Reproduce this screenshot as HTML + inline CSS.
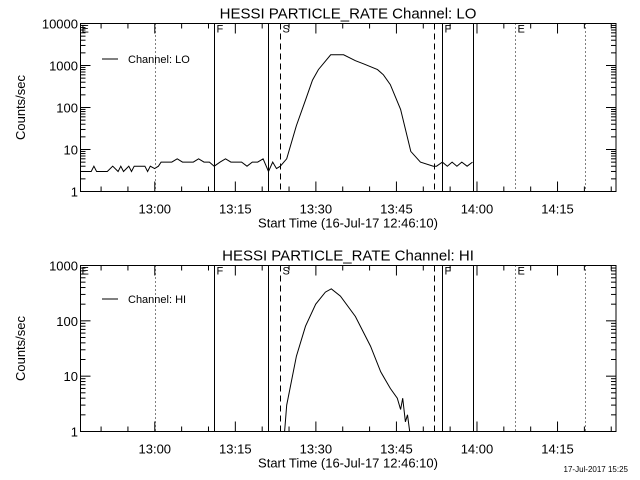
<!DOCTYPE html>
<html><head><meta charset="utf-8"><style>
html,body{margin:0;padding:0;background:#fff;}
svg{display:block;font-family:"Liberation Sans",sans-serif;}
</style></head><body>
<svg id="c" width="640" height="480" xmlns="http://www.w3.org/2000/svg"></svg>
<script>
// minutes after 12:46:10
const loTimes=[0,1,2,2.5,3,4,5,6,7,7.5,8,9,9.5,10,11,12,12.5,13,13.8,14.5,15,16,17,18,19,20,21,22,23,24,24.9,26,27,28,29,30,31,32,33,34,35,35.8,36.5,37.2,38.4,40.2,41.9,43.2,44.3,46.6,49.0,51.2,52.7,55.3,56.4,57.7,59.6,61.5,63.3,65.7,66.3,67.4,68.3,69.2,70.1,71,72,73];
const loValues=[3,3,3,4,3,3,3,4,3,4,3,4,3,4,4,4,3,4,3.5,4,5,5,5,6,5,5,5,6,5,5,4,5,6,5,5,5,4,5,5,6,3,5,3.5,4,6,37,150,450,800,1800,1800,1300,1100,800,600,350,90,9,5,4,4,5,4,5,4,5,4,5];
const hiTimes=[38.0,38.4,40.2,41.9,43.8,45.6,46.7,48.4,51.2,54.0,55.9,57.7,59.0,59.6,60.0,60.5,60.9,61.3];
const hiValues=[1,3,23,80,200,330,380,280,120,35,12,6,4,2.5,4,1.5,2,1];
const xTickLabels=["13:00","13:15","13:30","13:45","14:00","14:15"];
const xTickMinutes=[13.833,28.833,43.833,58.833,73.833,88.833];
const markerTimes=[13.833,24.9,35.0,37.2,65.9,67.4,73.0,81.0,94.0];
const markerStyles=["dot","solid","solid","dash","dash","solid","solid","dot","dot"];
const markerLabels=["","F","","S","","F","","E",""];

const svg=document.getElementById('c');
const NS="http://www.w3.org/2000/svg";
const X0=80.5,X1=616,PXMIN=5.37;
const xs=m=>X0+m*PXMIN;
function el(tag,attrs,txt){const e=document.createElementNS(NS,tag);for(const k in attrs)e.setAttribute(k,attrs[k]);if(txt!==undefined)e.textContent=txt;svg.appendChild(e);return e;}

function panel(p){
  const ys=v=>p.yb-(Math.log10(v))*(p.yb-p.yt)/p.dec;
  const g=el('rect',{x:X0,y:p.yt,width:X1-X0,height:p.yb-p.yt,fill:'none',stroke:'#000','stroke-width':1});
  
  
  const t=el('text',{x:348,y:p.yt-5,'text-anchor':'middle','font-size':15},p.title);
  
  
  // y ticks
  for(let d=0;d<=p.dec;d++){
    const y=ys(Math.pow(10,d));
    for(const xx of [[X0,X0+10],[X1,X1-10]]){const l=el('line',{x1:xx[0],x2:xx[1],y1:y,y2:y,stroke:'#000'});}
    const lb=el('text',{x:78,y:y+5,'text-anchor':'end','font-size':13},String(Math.pow(10,d)));
    
    
    if(d<p.dec)for(let k=2;k<=9;k++){const yy=ys(k*Math.pow(10,d));
      for(const xx of [[X0,X0+5],[X1,X1-5]]){const l=el('line',{x1:xx[0],x2:xx[1],y1:yy,y2:yy,stroke:'#000'});}}
  }
  const yl=el('text',{transform:`translate(25,${(p.yt+p.yb)/2}) rotate(-90)`,'text-anchor':'middle','font-size':13},'Counts/sec');
  
  
  // x ticks
  for(let m=3.833;xs(m)<X1;m+=5){
    const x=xs(m);const major=xTickMinutes.some(t=>Math.abs(t-m)<0.01);const len=major?10:5;
    for(const yy of [[p.yb,p.yb-len],[p.yt,p.yt+len]]){const l=el('line',{x1:x,x2:x,y1:yy[0],y2:yy[1],stroke:'#000'});}
  }
  xTickLabels.forEach((s,i)=>{const lb=el('text',{x:xs(xTickMinutes[i]),y:p.yb+22,'text-anchor':'middle','font-size':13},s);
    });
  const xt=el('text',{x:348,y:p.yb+36,'text-anchor':'middle','font-size':13},'Start Time (16-Jul-17 12:46:10)');
  
  
  // markers
  markerTimes.forEach((m,i)=>{const x=Math.round(xs(m))+0.5;const st=markerStyles[i];
    const a={x1:x,x2:x,y1:p.yt,y2:p.yb,stroke:'#000'};
    if(st==='dot')a['stroke-dasharray']='1,3';if(st==='dash')a['stroke-dasharray']='6,4';
    const l=el('line',a);
    if(markerLabels[i]){const tx=el('text',{x:x+2,y:p.yt+9,'font-size':11},markerLabels[i]);}
  });
  const tl=el('text',{x:X0+1,y:p.yt+9,'font-size':11},'E');
  // series
  let d='';p.times.forEach((m,i)=>{const v=Math.max(1,p.values[i]);d+=(i?'L':'M')+xs(m).toFixed(1)+','+ys(v).toFixed(1);});
  const path=el('path',{d:d,fill:'none',stroke:'#000','stroke-width':1});
  
  
  const ll=el('line',{x1:102,x2:118,y1:p.leg,y2:p.leg,stroke:'#000'});
  
  
  const lt=el('text',{x:128,y:p.leg+4,'font-size':11},p.legend);
  
  
}
panel({name:'lo-panel',yt:23.5,yb:191.5,dec:4,title:'HESSI PARTICLE_RATE Channel: LO',times:loTimes,values:loValues,leg:59,legend:'Channel: LO'});
panel({name:'hi-panel',yt:265.5,yb:431.5,dec:3,title:'HESSI PARTICLE_RATE Channel: HI',times:hiTimes,values:hiValues,leg:299,legend:'Channel: HI'});
const ts=el('text',{x:628,y:472,'text-anchor':'end','font-size':8},'17-Jul-2017 15:25');


</script>
</body></html>
